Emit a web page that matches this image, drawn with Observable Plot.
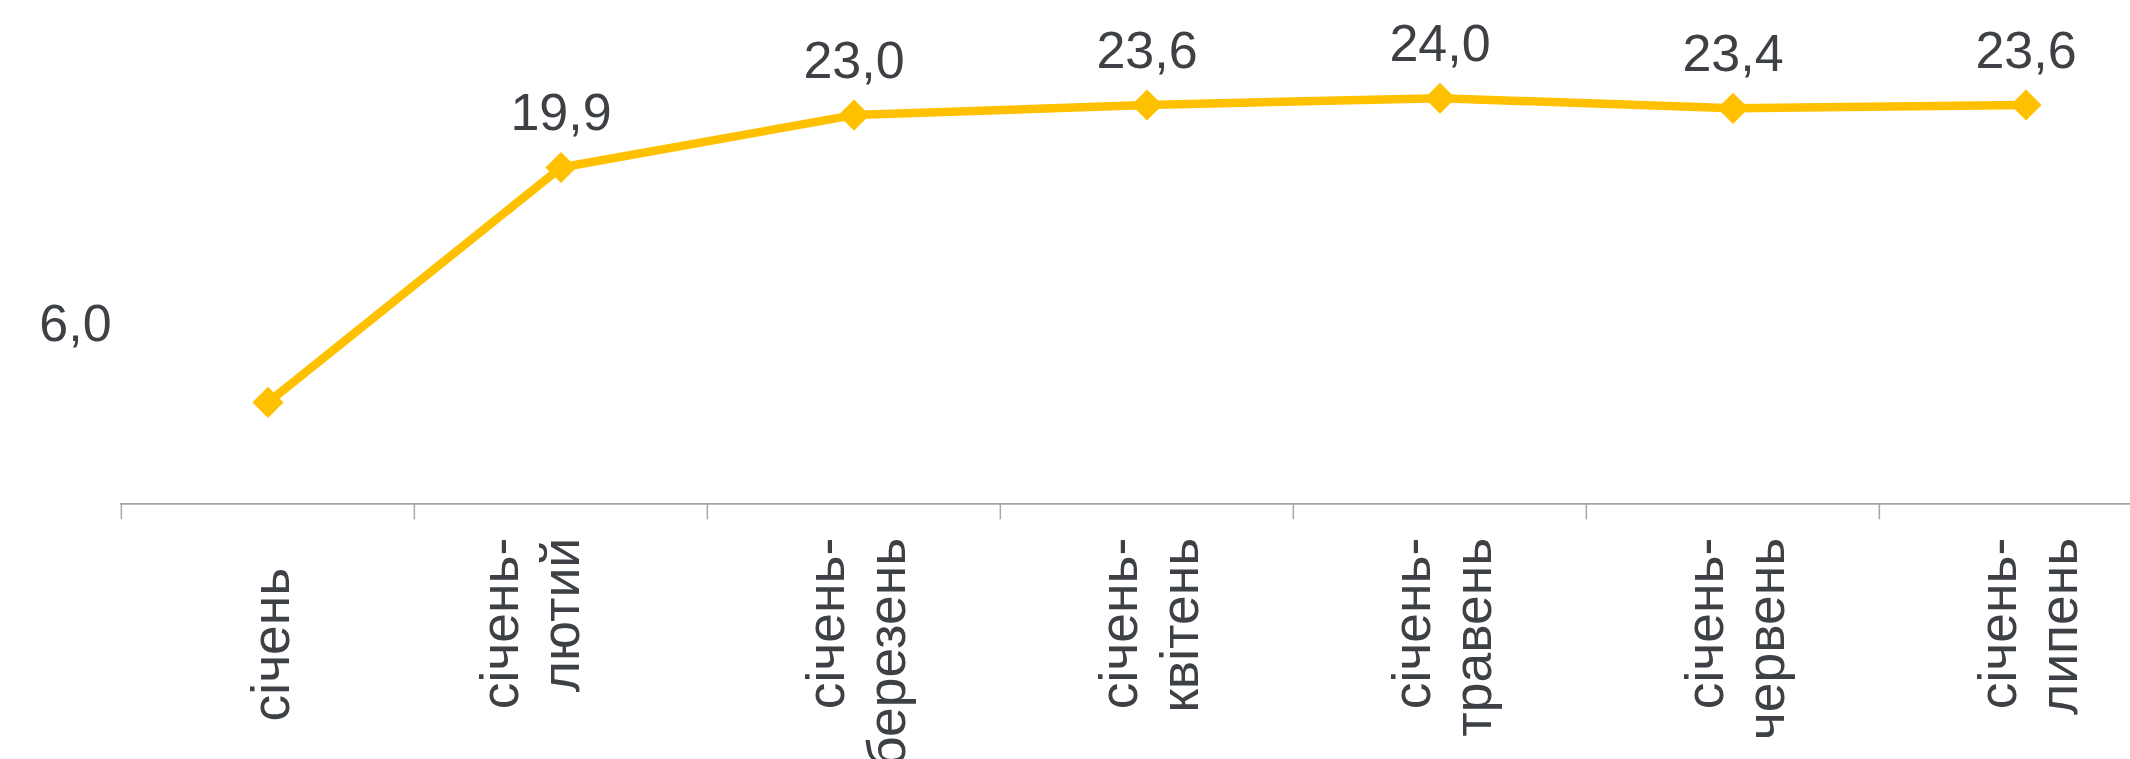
<!DOCTYPE html>
<html>
<head>
<meta charset="utf-8">
<script src="https://cdn.jsdelivr.net/npm/d3@7"></script>
<script src="https://cdn.jsdelivr.net/npm/@observablehq/plot@0.6"></script>
<style>
html, body { margin: 0; padding: 0; background: #fff; overflow: hidden; }
svg { display: block; }
</style>
</head>
<body>
<div id="chart"></div>
<script>
// Categories (cumulative periods), tick labels and values
const categories = ["січень", "січень-лютий", "січень-березень", "січень-квітень", "січень-травень", "січень-червень", "січень-липень"];
const tickLabels = ["січень", "січень-\nлютий", "січень-\nберезень", "січень-\nквітень", "січень-\nтравень", "січень-\nчервень", "січень-\nлипень"];
const values = [6.0, 19.9, 23.0, 23.6, 24.0, 23.4, 23.6];

const fmt = v => d3.format(".1f")(v).replace(".", ",");
const data = categories.map((c, i) => ({cat: c, value: values[i], label: fmt(values[i]), tick: tickLabels[i]}));

const W = 2130, H = 759;
const left = 120, band = 293.3, axisY = 503.3, pxPerUnit = 16.9;
const textColor = "#3d4145";
const yellow = "#FFC000";

const catText = {
  x: "cat", text: "tick", frameAnchor: "bottom", rotate: -90,
  textAnchor: "end", lineAnchor: "middle", lineHeight: 1.14,
  fontSize: 53.5, fill: textColor, ariaLabel: "xlabels"
};

const chart = Plot.plot({
  width: W,
  height: H,
  marginLeft: left,
  marginRight: 0,
  marginTop: 0,
  marginBottom: H - axisY,
  style: "font-family: 'Liberation Sans', Arial, sans-serif; background: #fff; overflow: visible;",
  x: {type: "band", domain: categories, range: [left, left + band * categories.length], padding: 0, label: null},
  y: {domain: [0, 30], range: [axisY, axisY - 30 * pxPerUnit], axis: null, label: null},
  marks: [
    Plot.ruleY([0], {stroke: "#a6a6a6", strokeWidth: 1.75}),
    Plot.axisX({tickSize: 16, tickFormat: () => "", dx: -band / 2, stroke: "#a6a6a6", strokeWidth: 1.5, label: null}),
    Plot.line(data, {x: "cat", y: "value", stroke: yellow, strokeWidth: 8.5, strokeLinejoin: "miter"}),
    Plot.dot(data, {x: "cat", y: "value", symbol: "diamond2", r: 14, fill: yellow, stroke: "none"}),
    Plot.text(data.slice(1), {x: "cat", y: "value", text: "label", lineAnchor: "bottom", dy: -37, fontSize: 52, fill: textColor}),
    Plot.text(data.slice(0, 1), {x: "cat", y: "value", text: "label", lineAnchor: "bottom", dx: -192.5, dy: -61, fontSize: 52, fill: textColor}),
    // category labels (the first two sit slightly apart in the original)
    Plot.text(data.slice(0, 1), {...catText, dx: 1, dy: 64}),
    Plot.text(data.slice(1, 2), {...catText, dx: -32, dy: 34}),
    Plot.text(data.slice(2), {...catText, dx: 1, dy: 34})
  ]
});
document.getElementById("chart").appendChild(chart);

// centre the lines of each multi-line category label (as in the original)
document.querySelectorAll('g[aria-label="xlabels"] text').forEach(t => {
  const spans = t.querySelectorAll("tspan");
  if (spans.length < 2) return;
  let m = 0;
  spans.forEach(s => { m = Math.max(m, s.getComputedTextLength()); });
  t.setAttribute("text-anchor", "middle");
  spans.forEach(s => s.setAttribute("x", -m / 2));
});
</script>
</body>
</html>
